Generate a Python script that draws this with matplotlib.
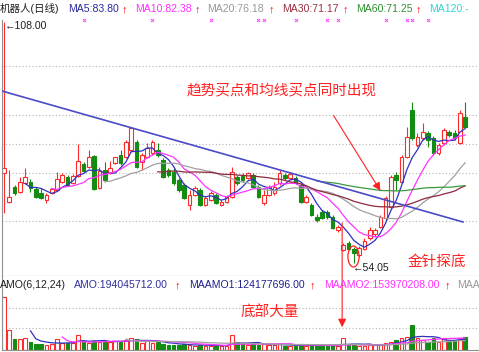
#!/usr/bin/env python3
"""
plot.py
机器人 daily K-line: candles + MA5/10/20/30/60, falling trendline,
AMO (turnover) panel with MA6/12/24. Annotated bottom-reversal signals.
"""
import numpy as np
import pandas as pd
import matplotlib
matplotlib.use("Agg")
import matplotlib.pyplot as plt
from matplotlib.patches import Ellipse
from matplotlib.transforms import blended_transform_factory

plt.rcParams["font.family"] = ["Liberation Sans", "Noto Sans CJK SC", "DejaVu Sans"]

# === Daily bars (yuan) ===
opens = [74.20, 67.70, 71.06, 69.94, 71.96, 72.18, 70.62, 69.72, 68.15, 69.72,
         70.39, 72.18, 73.30, 71.96, 73.53, 76.21, 75.54, 78.00, 70.84, 74.87,
         74.20, 76.44, 78.23, 77.78, 79.35, 81.14, 76.67, 77.78, 78.67, 79.35,
         77.11, 74.87, 74.42, 72.63, 71.51, 67.03, 69.27, 70.39, 67.03, 68.15,
         69.27, 67.03, 67.70, 68.82, 73.30, 73.53, 73.08, 73.75, 71.06, 67.48,
         69.27, 69.72, 71.96, 73.75, 73.08, 73.08, 71.51, 67.70, 67.03, 64.35,
         65.47, 65.47, 64.35, 61.44, 56.96, 58.53, 57.19, 55.84, 57.19, 59.64,
         60.54, 62.11, 64.12, 66.58, 73.75, 72.18, 77.78, 88.30, 80.47, 82.03,
         83.15, 82.03, 78.67, 80.91, 83.37, 83.15, 80.91, 86.73]
closes = [75.32, 68.82, 69.72, 72.18, 73.30, 70.84, 68.82, 68.60, 69.27, 70.62,
          72.85, 73.75, 71.51, 73.53, 76.88, 74.65, 77.78, 70.62, 74.65, 72.63,
          75.32, 77.78, 76.44, 81.14, 84.27, 75.54, 78.23, 79.79, 81.14, 78.23,
          73.30, 73.75, 71.96, 70.39, 68.60, 69.27, 70.84, 67.03, 68.60, 69.72,
          67.48, 67.70, 68.82, 74.42, 71.96, 72.63, 74.20, 71.06, 68.82, 69.27,
          71.06, 71.06, 74.20, 73.08, 73.97, 71.96, 67.70, 68.82, 64.79, 63.68,
          64.12, 64.35, 61.88, 62.11, 58.08, 57.19, 56.29, 57.41, 58.97, 61.44,
          61.44, 64.35, 68.60, 73.30, 72.63, 77.78, 82.26, 82.03, 82.26, 83.37,
          81.58, 78.67, 80.47, 83.82, 82.70, 82.03, 87.63, 84.49]
highs = [108.00, 74.87, 71.51, 73.30, 75.32, 72.85, 71.06, 70.84, 69.72, 70.84,
         74.42, 74.20, 73.75, 73.97, 80.69, 76.67, 79.35, 78.23, 75.54, 76.67,
         76.88, 77.78, 79.35, 81.58, 84.49, 81.58, 78.67, 80.91, 81.58, 80.91,
         77.56, 75.32, 75.32, 73.08, 71.96, 70.39, 71.29, 70.84, 69.05, 70.17,
         69.72, 68.15, 69.27, 75.54, 73.75, 74.20, 74.42, 74.20, 71.51, 70.39,
         71.51, 72.18, 74.87, 74.20, 74.42, 73.53, 71.96, 69.27, 67.48, 65.02,
         65.91, 65.91, 64.79, 62.56, 58.53, 58.97, 57.63, 57.85, 59.64, 62.11,
         61.88, 64.79, 69.05, 73.75, 74.42, 78.23, 84.49, 90.09, 83.15, 85.39,
         83.60, 82.48, 80.91, 84.27, 83.82, 83.82, 88.30, 90.09]
lows = [65.24, 67.48, 69.27, 69.72, 71.73, 69.94, 68.60, 68.38, 67.48, 69.50,
        70.17, 71.96, 71.29, 71.73, 73.30, 74.42, 75.32, 70.39, 70.62, 72.18,
        73.97, 76.21, 75.99, 77.56, 78.90, 75.32, 74.87, 77.56, 78.23, 77.78,
        73.08, 73.30, 71.51, 69.94, 68.38, 65.91, 69.05, 66.81, 66.81, 67.93,
        67.26, 66.81, 67.48, 68.60, 71.51, 72.18, 72.85, 70.84, 68.60, 67.03,
        69.05, 69.27, 71.51, 72.63, 72.85, 71.73, 67.48, 67.48, 64.57, 63.23,
        63.90, 63.90, 61.66, 60.99, 56.74, 56.96, 54.05, 55.39, 56.96, 59.20,
        60.09, 61.88, 63.68, 66.36, 70.39, 71.96, 77.56, 81.58, 80.02, 81.58,
        80.02, 78.23, 78.23, 80.47, 82.26, 81.58, 80.69, 84.27]
# turnover (AMO), 1e8 yuan
amounts = [7.96, 2.99, 1.60, 1.60, 1.75, 1.24, 0.90, 0.90, 0.75, 0.90,
           1.60, 1.09, 1.09, 1.00, 2.24, 1.34, 1.09, 1.39, 1.24, 1.24,
           1.24, 1.39, 1.24, 1.49, 1.75, 1.64, 1.09, 1.39, 1.09, 1.24,
           0.90, 0.75, 0.75, 0.75, 0.90, 0.75, 0.60, 0.75, 0.60, 0.60,
           0.75, 0.60, 0.60, 2.24, 1.19, 0.90, 0.75, 0.90, 0.75, 0.90,
           0.75, 0.75, 0.90, 0.60, 0.60, 0.60, 0.90, 0.60, 0.75, 0.60,
           0.60, 0.60, 0.75, 0.60, 1.75, 0.75, 0.90, 0.60, 0.60, 0.75,
           0.75, 0.90, 1.05, 1.19, 1.49, 1.79, 1.94, 3.73, 1.79, 1.49,
           1.19, 1.79, 1.19, 1.79, 1.19, 1.49, 1.79, 1.94]

# signal marks along the top edge (bar index)
signal_days = [15, 28, 39, 48, 49, 55, 61, 63, 72, 76, 77, 80]

# falling trendline (bar index, price)
trend_x = [-0.38, 86.6]
trend_y = [92.55, 63.23]

# dotted grid levels
price_grid = [98.15, 87.18, 80.69, 74.20, 63.45]
amo_grid = [6.27, 3.28]

# header legends
price_header = [("机器人(日线)", "#202020"), ("MA5:83.80", "#2828a0"),
                ("MA10:82.38", "#ff30ff"), ("MA20:76.18", "#989898"),
                ("MA30:71.17", "#9a3040"), ("MA60:71.25", "#2f912f"),
                ("MA120:-", "#30d4d4")]
price_header_x = [0, 68, 135, 207, 282, 356, 429]
amo_header = [("AMO(6,12,24)", "#202020"), ("AMO:194045712.00", "#3030a0"),
              ("MAAMO1:124177696.00", "#202090"), ("MAAMO2:153970208.00", "#ff30ff"),
              ("MAA", "#989898")]
amo_header_x = [0, 74, 189, 324, 457]
up_arrow_x_price = [122, 195, 269, 343, 416]
up_arrow_x_amo = [175, 310, 445]

RED = "#ff2a2a"
GREEN = "#148c14"
W, H = 479, 352


def box(x0, y0, x1, y1):
    """pixel box (top-left origin) -> figure fraction rect"""
    return [x0 / W, 1 - y1 / H, (x1 - x0) / W, (y1 - y0) / H]


o = np.array(opens)
c = np.array(closes)
hi = np.array(highs)
lo = np.array(lows)
amo = np.array(amounts)
idx = np.arange(len(c))
up = c >= o
col = np.where(up, RED, GREEN)
face = np.where(up, "white", GREEN)

fig = plt.figure(figsize=(W / 100, H / 100), dpi=100)
ax = fig.add_axes(box(2, 20, 479, 276))
axv = fig.add_axes(box(2, 276, 479, 350))

for a in (ax, axv):
    a.set_xlim(-0.377, 89.62)
    a.set_xticks([])
    a.set_yticks([])
    for s in ("top", "right"):
        a.spines[s].set_visible(False)
    for s in ("left", "bottom"):
        a.spines[s].set_color("#909090")
        a.spines[s].set_linewidth(0.8)
ax.set_ylim(51.14, 108.45)
axv.set_ylim(0, 11.05)

for g in price_grid:
    ax.axhline(g, color="#b4b4b4", lw=0.8, ls=(0, (1, 2)), zorder=0)
for g in amo_grid:
    axv.axhline(g, color="#b4b4b4", lw=0.8, ls=(0, (1, 2)), zorder=0)

# candles
ax.vlines(idx, lo, hi, colors=col, lw=0.8, zorder=1)
ax.bar(idx, np.maximum(np.abs(c - o), 0.15), bottom=np.minimum(o, c), width=0.68,
       color=face, edgecolor=col, lw=0.8, zorder=2)

# moving averages
s = pd.Series(c)
ma_styles = [(5, "#3030c0"), (10, "#ff33ff"), (20, "#a0a0a0"), (30, "#8e2a3c"), (60, "#3a9a3a")]
for n, color in ma_styles:
    ax.plot(idx, s.rolling(n).mean(), color=color, lw=0.9, zorder=3)

ax.plot(trend_x, trend_y, color="#4a4ac8", lw=1.2, zorder=3)

# top-edge signal marks
tr = blended_transform_factory(ax.transData, ax.transAxes)
ax.scatter(signal_days, [1.0] * len(signal_days), marker="x", s=5, lw=0.7,
           color="#ff40ff", transform=tr, clip_on=False, zorder=4)

# AMO bars + MAs
axv.bar(idx, amo, width=0.68, color=face, edgecolor=col, lw=0.8, zorder=2)
sv = pd.Series(amo)
for n, color in [(6, "#3030c0"), (12, "#ff33ff"), (24, "#a0a0a0")]:
    axv.plot(idx, sv.rolling(n).mean(), color=color, lw=0.9, zorder=3)

# headers
def header(items, xs, y):
    for (txt, color), x in zip(items, xs):
        fig.text(x / W, 1 - y / H, txt, color=color, fontsize=7.6,
                 ha="left", va="center")

header(price_header, price_header_x, 9)
header(amo_header, amo_header_x, 285)
for x in up_arrow_x_price:
    fig.text(x / W, 1 - 9 / H, "↑", color="red", fontsize=8, ha="left", va="center",
             fontweight="bold")
for x in up_arrow_x_amo:
    fig.text(x / W, 1 - 285 / H, "↑", color="red", fontsize=8, ha="left", va="center",
             fontweight="bold")

# price labels on extremes
ax.annotate("←108.00", xy=(0, 108.0), xytext=(0.2, 107.0), fontsize=7.6,
            color="#202020", ha="left", va="center", annotation_clip=False)
ax.annotate("←54.05", xy=(66, 54.05), xytext=(65.8, 53.0), fontsize=7.6,
            color="#202020", ha="left", va="center")

# annotations
RED_TXT = "#ff2020"
fig.text(282 / W, 1 - 90 / H, "趋势买点和均线买点同时出现", color=RED_TXT,
         fontsize=10.5, ha="center", va="center")
ax.annotate("", xy=(71.3, 69.7), xytext=(61.9, 87.6),
            arrowprops=dict(arrowstyle="-|>", color=RED_TXT, lw=0.8, mutation_scale=12))
ax.add_patch(Ellipse((65.94, 55.5), 2.1, 4.7, fill=False, edgecolor=RED_TXT, lw=0.9, zorder=4))
fig.text(437 / W, 1 - 262 / H, "金针探底", color=RED_TXT, fontsize=10.5,
         ha="center", va="center")
fig.text(270 / W, 1 - 313 / H, "底部大量", color=RED_TXT, fontsize=10.5,
         ha="center", va="center")
axv.annotate("", xy=(63.8, 2.99), xytext=(63.8, 63.68), textcoords=ax.transData,
             annotation_clip=False,
             arrowprops=dict(arrowstyle="-|>", color=RED_TXT, lw=0.8, mutation_scale=12))

fig.savefig("out.png", dpi=100)
